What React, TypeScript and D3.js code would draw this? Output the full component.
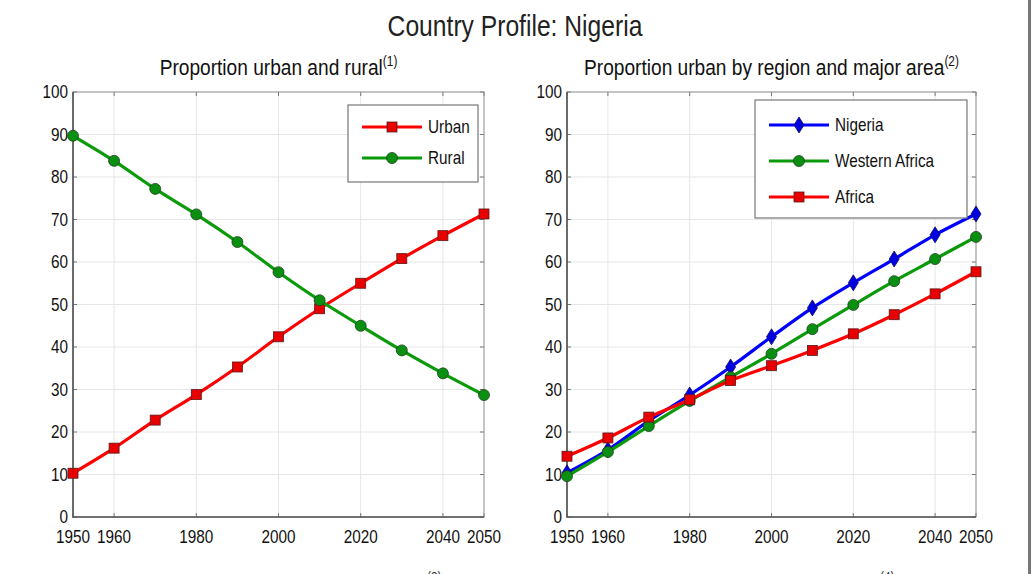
import React from "react";
import * as d3 from "d3";

// decades on the x axis
const years = [1950, 1960, 1970, 1980, 1990, 2000, 2010, 2020, 2030, 2040, 2050];
const xTickYears = [1950, 1960, 1980, 2000, 2020, 2040, 2050];
const gridYears = [1960, 1980, 2000, 2020, 2040];
const yTicks = [0, 10, 20, 30, 40, 50, 60, 70, 80, 90, 100];

// left panel
const urban = [10.3, 16.2, 22.8, 28.8, 35.3, 42.4, 49.0, 55.0, 60.8, 66.2, 71.3];
const rural = [89.7, 83.8, 77.2, 71.2, 64.7, 57.6, 51.0, 45.0, 39.2, 33.8, 28.7];

// right panel
const nigeria = [10.4, 15.8, 22.6, 28.7, 35.3, 42.4, 49.2, 55.1, 60.7, 66.4, 71.3];
const westernAfrica = [9.6, 15.3, 21.4, 27.3, 32.9, 38.4, 44.2, 49.9, 55.5, 60.7, 65.9];
const africa = [14.3, 18.6, 23.5, 27.6, 32.1, 35.6, 39.2, 43.1, 47.6, 52.5, 57.7];

const FONT = "'Liberation Sans', Arial, sans-serif";
const SQUEEZE = 0.85; // the original uses a narrow helvetica

type Series = { name: string; values: number[]; color: string; fill: string; marker: "square" | "circle" | "diamond" };

// narrow text: scale horizontally around its anchor point
const NText = ({ x, y, size, anchor = "start", fill = "#111", children }: any) => (
  <text
    transform={`translate(${x},${y}) scale(${SQUEEZE},1)`}
    textAnchor={anchor}
    fontSize={size}
    fontFamily={FONT}
    fill={fill}
  >
    {children}
  </text>
);

const Marker = ({ x, y, kind, fill }: { x: number; y: number; kind: string; fill: string }) => {
  if (kind === "square")
    return <rect x={x - 5} y={y - 5} width={10} height={10} fill={fill} stroke="#5a1a1a" strokeWidth={0.8} />;
  if (kind === "circle")
    return <circle cx={x} cy={y} r={5.5} fill={fill} stroke="#1f3f1f" strokeWidth={0.8} />;
  return (
    <path
      d={`M${x},${y - 8}L${x + 5},${y}L${x},${y + 8}L${x - 5},${y}Z`}
      fill={fill}
      stroke="#101060"
      strokeWidth={0.8}
    />
  );
};

const Panel = ({
  left, right, top, bottom, title, sup, series, legend,
}: {
  left: number; right: number; top: number; bottom: number; title: string; sup: string;
  series: Series[];
  legend: { x: number; y: number; w: number; h: number; rowGap: number; first: number };
}) => {
  const x = d3.scaleLinear().domain([1950, 2050]).range([left, right]);
  const y = d3.scaleLinear().domain([0, 100]).range([bottom, top]);
  const line = d3
    .line<number>()
    .x((_, i) => x(years[i]))
    .y((d) => y(d))
    .curve(d3.curveCatmullRom);
  const mid = (left + right) / 2;
  return (
    <g>
      <NText x={mid} y={top - 17} size={22.5} anchor="middle">
        {title}
        <tspan fontSize={14} dy={-9}>{sup}</tspan>
      </NText>
      <rect x={left} y={top} width={right - left} height={bottom - top} fill="#fff" />
      {gridYears.map((yr) => (
        <line key={yr} x1={x(yr)} x2={x(yr)} y1={top} y2={bottom} stroke="#e6e6e6" strokeWidth={1} />
      ))}
      {yTicks.slice(1, -1).map((t) => (
        <line key={t} x1={left} x2={right} y1={y(t)} y2={y(t)} stroke="#e6e6e6" strokeWidth={1} />
      ))}
      {/* ticks inside the box */}
      {xTickYears.map((yr) => (
        <g key={yr} stroke="#777">
          <line x1={x(yr)} x2={x(yr)} y1={bottom} y2={bottom - 4} />
          <line x1={x(yr)} x2={x(yr)} y1={top} y2={top + 4} />
        </g>
      ))}
      {yTicks.map((t) => (
        <g key={t} stroke="#777">
          <line x1={left} x2={left + 4} y1={y(t)} y2={y(t)} />
          <line x1={right} x2={right - 4} y1={y(t)} y2={y(t)} />
        </g>
      ))}
      <rect x={left} y={top} width={right - left} height={bottom - top} fill="none" stroke="#8a8a8a" strokeWidth={1} />
      <path d={`M${left},${top}V${bottom}H${right}`} fill="none" stroke="#555" strokeWidth={1.6} />
      {xTickYears.map((yr) => (
        <NText key={yr} x={x(yr)} y={bottom + 26} size={18} anchor="middle">
          {yr}
        </NText>
      ))}
      {yTicks.map((t) => (
        <NText key={t} x={left - 5} y={y(t) + 6} size={18} anchor="end">
          {t}
        </NText>
      ))}
      {series.map((s) => (
        <g key={s.name}>
          <path d={line(s.values) || ""} fill="none" stroke={s.color} strokeWidth={3.2} />
          {s.values.map((v, i) => (
            <Marker key={i} x={x(years[i])} y={y(v)} kind={s.marker} fill={s.fill} />
          ))}
        </g>
      ))}
      <rect x={legend.x} y={legend.y} width={legend.w} height={legend.h} fill="#fff" stroke="#777" strokeWidth={1.2} />
      {series.map((s, i) => {
        const ly = legend.y + legend.first + i * legend.rowGap;
        return (
          <g key={s.name}>
            <line x1={legend.x + 14} x2={legend.x + 74} y1={ly} y2={ly} stroke={s.color} strokeWidth={3.2} />
            <Marker x={legend.x + 44} y={ly} kind={s.marker} fill={s.fill} />
            <NText x={legend.x + 80} y={ly + 6} size={18}>{s.name}</NText>
          </g>
        );
      })}
    </g>
  );
};

const App = () => {
  const leftSeries: Series[] = [
    { name: "Urban", values: urban, color: "#ff0000", fill: "#e80000", marker: "square" },
    { name: "Rural", values: rural, color: "#0a9a0a", fill: "#0a9010", marker: "circle" },
  ];
  const rightSeries: Series[] = [
    { name: "Nigeria", values: nigeria, color: "#0000ff", fill: "#0000e0", marker: "diamond" },
    { name: "Western Africa", values: westernAfrica, color: "#0a9a0a", fill: "#0a9010", marker: "circle" },
    { name: "Africa", values: africa, color: "#ff0000", fill: "#e80000", marker: "square" },
  ];
  return (
    <svg
      width={1031}
      height={574}
      style={{ position: "absolute", left: 0, top: 0, background: "#fff" }}
    >
      <rect width={1031} height={574} fill="#fff" />
      <NText x={515} y={36} size={29} anchor="middle" fill="#222">
        Country Profile: Nigeria
      </NText>
      <Panel
        left={73} right={484} top={92} bottom={517}
        title="Proportion urban and rural" sup="(1)"
        series={leftSeries}
        legend={{ x: 348, y: 105, w: 130, h: 77, rowGap: 31, first: 22 }}
      />
      <Panel
        left={567} right={976} top={92} bottom={517}
        title="Proportion urban by region and major area" sup="(2)"
        series={rightSeries}
        legend={{ x: 755, y: 100, w: 212, h: 118, rowGap: 36, first: 25 }}
      />
      <NText x={427} y={582} size={14} fill="#333">(3)</NText>
      <NText x={880} y={582} size={14} fill="#333">(4)</NText>
      <rect x={1028} y={0} width={3} height={574} fill="#777" />
    </svg>
  );
};

export default App;
